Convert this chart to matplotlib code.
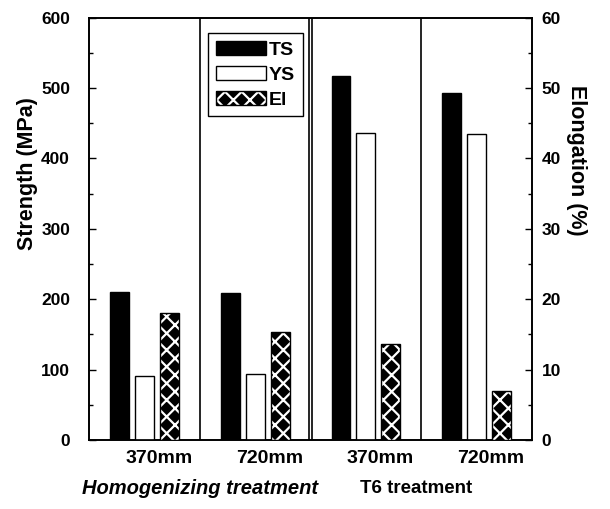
import matplotlib
matplotlib.use("Agg")
import matplotlib.pyplot as plt
import numpy as np
from matplotlib.patches import Patch
from matplotlib.legend_handler import HandlerTuple
from matplotlib.ticker import MultipleLocator
import matplotlib.transforms as mtransforms

plt.rcParams['font.family'] = ['Liberation Sans', 'DejaVu Sans']
plt.rcParams['font.weight'] = 'bold'
plt.rcParams['hatch.linewidth'] = 1.6

# Data
conditions = ["370mm", "720mm", "370mm", "720mm"]
treatments = ["Homogenizing treatment", "T6 treatment"]
ts = [210, 209, 517, 493]      # tensile strength, MPa
ys = [91, 94, 436, 435]        # yield strength, MPa
el = [18.0, 15.4, 13.6, 6.9]   # elongation, %

fig = plt.figure(figsize=(6.10, 5.09), dpi=100)
ax = fig.add_axes([0.1467, 0.1356, 0.7250, 0.8300])
ax2 = ax.twinx()

x = np.arange(len(conditions)) + 0.5
w = 0.17
off = 0.225

ax.bar(x - off, ts, w, color='black', edgecolor='black', linewidth=1.0, zorder=3)
ax.bar(x, ys, w, color='white', edgecolor='black', linewidth=1.0, zorder=3)
ax2.bar(x + off, el, w, color='black', edgecolor='white', hatch='xx', linewidth=0, zorder=3)
ax2.bar(x + off, el, w, fill=False, edgecolor='black', linewidth=1.0, zorder=4)

ax.set_xlim(0, 4)
ax.set_ylim(0, 600)
ax2.set_ylim(0, 60)

# separators
for xv in [1, 3]:
    ax.axvline(xv, color='black', linewidth=1.2, zorder=2)
for xv in [2 - 0.014, 2 + 0.014]:
    ax.axvline(xv, color='black', linewidth=1.2, zorder=2)

ax.yaxis.set_major_locator(MultipleLocator(100))
ax.yaxis.set_minor_locator(MultipleLocator(50))
ax2.yaxis.set_major_locator(MultipleLocator(10))
ax2.yaxis.set_minor_locator(MultipleLocator(5))

ax.tick_params(axis='y', which='major', direction='in', length=5, width=1, labelsize=12.5, pad=14)
ax.tick_params(axis='y', which='minor', direction='in', length=3, width=1)
ax2.tick_params(axis='y', which='major', direction='in', length=5, width=1, labelsize=12.5, pad=7)
ax2.tick_params(axis='y', which='minor', direction='in', length=3, width=1)

ax.set_xticks(x)
ax.set_xticklabels(conditions, fontsize=14)
ax.tick_params(axis='x', length=0, pad=7)
offset = mtransforms.ScaledTranslation(14/100, 0, fig.dpi_scale_trans)
for lbl in ax.get_xticklabels():
    lbl.set_transform(lbl.get_transform() + offset)

for a in (ax, ax2):
    for s in a.spines.values():
        s.set_linewidth(1.2)

ax.set_ylabel("Strength (MPa)", fontsize=15.5, fontweight='bold', va='center')
ax.yaxis.set_label_coords(-0.141, 0.63)
ax2.set_ylabel("Elongation (%)", fontsize=15.5, fontweight='bold', rotation=270, va='center')
ax2.yaxis.set_label_coords(1.102, 0.663)

trans = mtransforms.blended_transform_factory(ax.transData, ax.transAxes)
ax.text(1.0, -0.114, treatments[0], transform=trans, ha='center', va='center',
        fontsize=14.5, fontweight='bold', fontstyle='italic')
ax.text(2.95, -0.114, treatments[1], transform=trans, ha='center', va='center',
        fontsize=13.5, fontweight='bold')

h_ts = Patch(facecolor='black', edgecolor='black', linewidth=1.0)
h_ys = Patch(facecolor='white', edgecolor='black', linewidth=1.0)
h_el1 = Patch(facecolor='black', edgecolor='white', hatch='xx', linewidth=0)
h_el2 = Patch(fill=False, edgecolor='black', linewidth=1.0)
leg = ax2.legend([h_ts, h_ys, (h_el1, h_el2)], ["TS", "YS", "El"],
                 handler_map={tuple: HandlerTuple(ndivide=1, pad=0)},
                 loc='upper left', bbox_to_anchor=(0.268, 0.963),
                 fontsize=14, frameon=True, fancybox=False, edgecolor='black',
                 framealpha=1, handlelength=2.6, handleheight=0.7,
                 handletextpad=0.12, labelspacing=0.38, borderpad=0.4, borderaxespad=0)
leg.get_frame().set_linewidth(1.0)
leg.set_zorder(10)

fig.savefig("out.png", dpi=100)
